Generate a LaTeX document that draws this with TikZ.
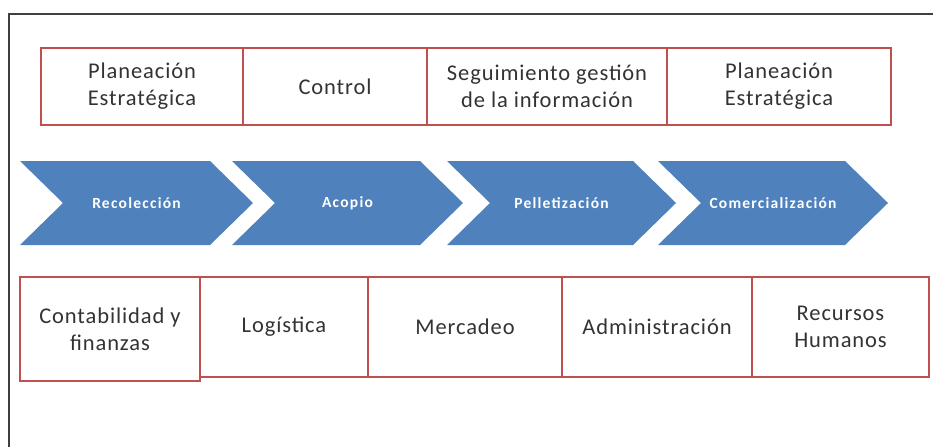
\documentclass[tikz,border=0pt]{standalone}
\usepackage{fontspec}
\setmainfont{Carlito}
\newfontfamily\chevfont[LetterSpace=8]{Carlito}
\newfontfamily\boxfont[LetterSpace=4]{Carlito}
\definecolor{boxred}{HTML}{C0504D}
\definecolor{chevblue}{HTML}{4F81BD}
\definecolor{framegray}{HTML}{404040}
\begin{document}
\begin{tikzpicture}[x=1pt,y=-1pt,
  box/.style={draw=boxred, line width=1.3pt, fill=white, align=center,
    text=black!80, font=\boxfont\fontsize{22.5}{27}\selectfont, inner sep=0pt},
  chevtext/.style={text=white, font=\chevfont\bfseries\fontsize{15.5}{17}\selectfont, inner sep=0pt},
  chev/.style={fill=chevblue, draw=none}]
\useasboundingbox (0,0) rectangle (933,447);
\fill[white] (0,0) rectangle (933,447);
% frame
\coordinate (fa) at (9,447);
\coordinate (fb) at (9,14);
\coordinate (fc) at (933,14);
\draw[framegray, line width=1.6pt] (fa) -- (fb) -- (fc);
% top boxes
\node[box, minimum width=202, minimum height=77] (t1) at (142,86.5) {Planeación\\Estratégica};
\node[box, minimum width=184, minimum height=77] (t2) at (335,86.5) {Control};
\node[box, minimum width=240, minimum height=77] (t3) at (547,86.5) {Seguimiento gestión\\de la información};
\node[box, minimum width=224, minimum height=77] (t4) at (779,86.5) {Planeación\\Estratégica};
% chevrons
\foreach \a/\b in {20/210, 232/420, 447/633, 658/845}{
  \fill[chev] (\a,161) -- (\b,161) -- (\b+43,203) -- (\b,245) -- (\a,245) -- (\a+43,203) -- cycle;
}
\node[chevtext] (c1) at (136.5,203) {Recolección};
\node[chevtext] (c2) at (347.5,203) {Acopio};
\node[chevtext] (c3) at (561.5,203) {Pelletización};
\node[chevtext] (c4) at (773,203) {Comercialización};
% bottom boxes
\node[box, minimum width=180, minimum height=104] (b1) at (110,329) {Contabilidad y\\finanzas};
\node[box, minimum width=168, minimum height=100] (b2) at (284,327) {Logística};
\node[box, minimum width=194, minimum height=100] (b3) at (465,327) {Mercadeo};
\node[box, minimum width=190, minimum height=100] (b4) at (657,327) {Administración};
\node[box, minimum width=177, minimum height=100] (b5) at (840.5,327) {Recursos\\Humanos};
\end{tikzpicture}
\end{document}
